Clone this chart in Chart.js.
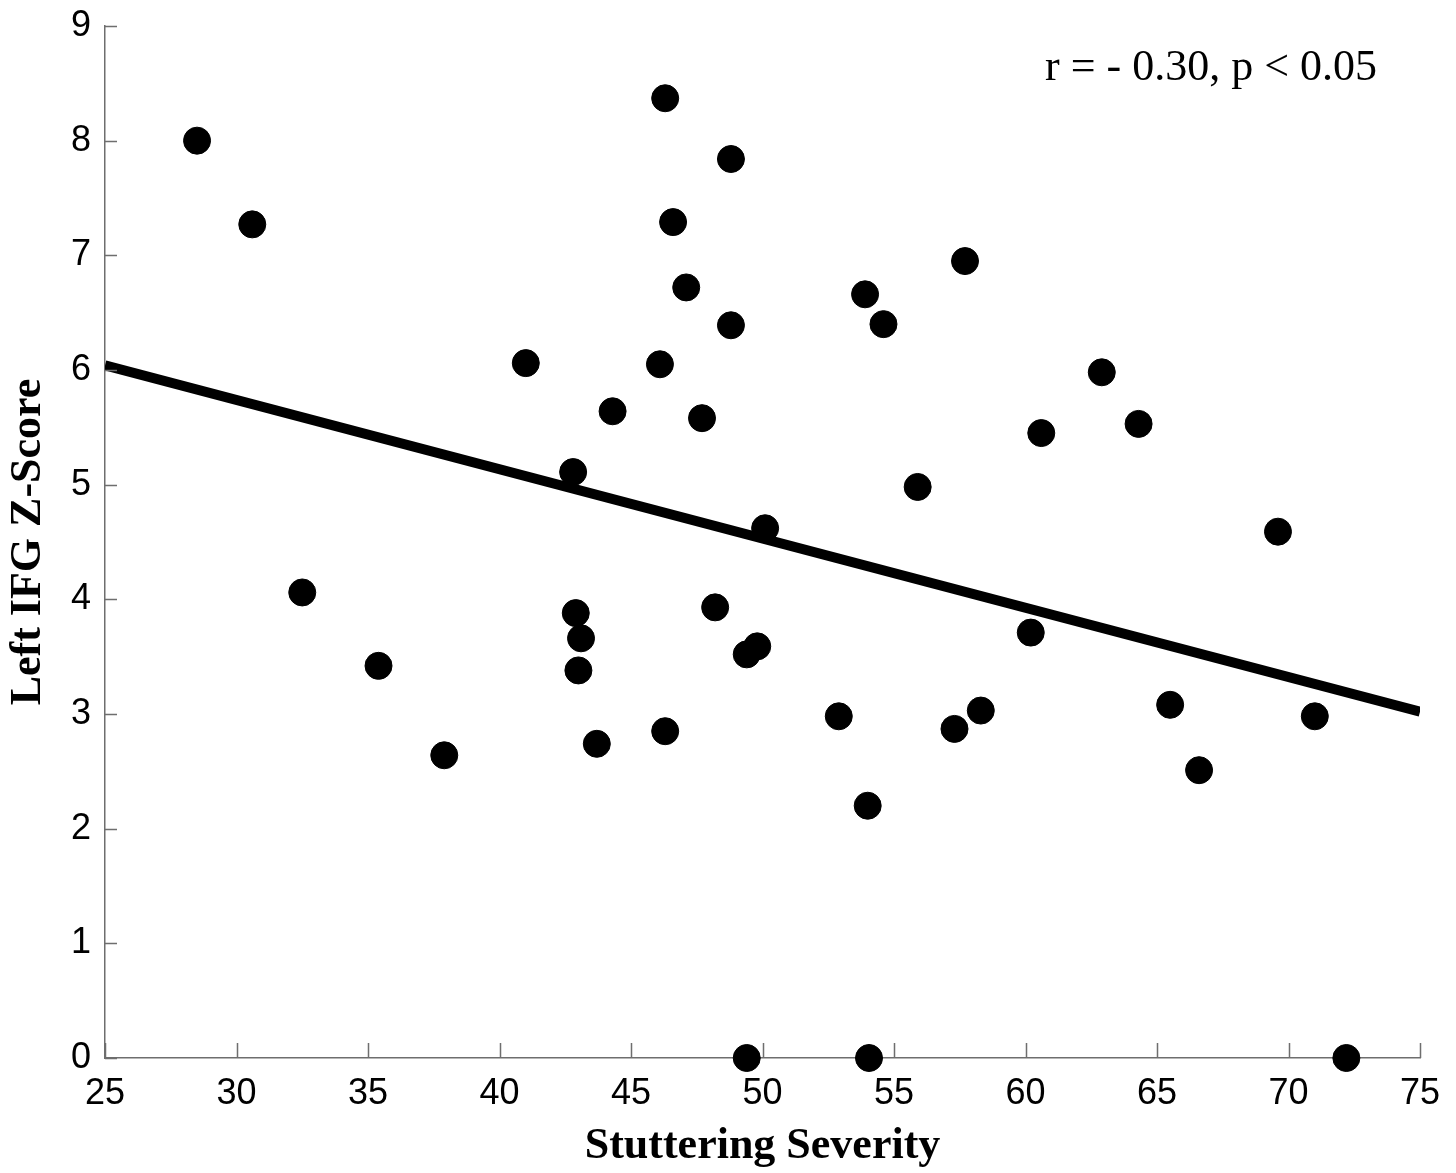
<!DOCTYPE html>
<html>
<head>
<meta charset="utf-8">
<script src="https://cdn.jsdelivr.net/npm/chart.js@4"></script>
<style>
  html, body { margin: 0; padding: 0; background: #fff; }
  #wrap { width: 1456px; height: 1173px; }
</style>
</head>
<body>
<div id="wrap"><canvas id="scatterChart" width="1456" height="1173"></canvas></div>
<script>
  // stuttering severity (x) and left IFG z-score (y)
  var severity = [28.5, 30.6, 32.5, 35.4, 37.9, 41.0, 42.8, 42.9, 43.1, 43.0, 43.7, 44.3,
    46.1, 46.3, 46.6, 47.1, 46.3, 47.7, 48.8, 48.8, 48.2, 49.4, 49.8, 50.1, 49.4,
    53.9, 54.6, 52.9, 54.0, 54.05, 55.9, 57.7, 57.3, 58.3, 60.2, 60.6, 62.9, 64.3,
    65.5, 66.6, 69.6, 71.0, 72.2];
  var zScore = [8.0, 7.27, 4.06, 3.42, 2.64, 6.06, 5.11, 3.88, 3.66, 3.38, 2.74, 5.64,
    6.05, 8.37, 7.29, 6.72, 2.85, 5.58, 7.84, 6.39, 3.93, 3.52, 3.59, 4.62, 0,
    6.66, 6.40, 2.98, 2.2, 0, 4.98, 6.95, 2.87, 3.03, 3.71, 5.45, 5.98, 5.53,
    3.08, 2.51, 4.59, 2.98, 0];

  // fitted line end points
  var fitX = [25, 75];
  var fitY = [6.04, 3.02];

  var xTicks = [25, 30, 35, 40, 45, 50, 55, 60, 65, 70, 75];
  var yTicks = [0, 1, 2, 3, 4, 5, 6, 7, 8, 9];

  var statText = 'r = - 0.30, p < 0.05';

  var points = severity.map(function (x, i) { return { x: x, y: zScore[i] }; });
  var fitPoints = fitX.map(function (x, i) { return { x: x, y: fitY[i] }; });

  var axisColor = '#6e6e6e';

  // inward tick marks + the r / p note
  var extrasPlugin = {
    id: 'extras',
    afterDraw: function (chart) {
      var ctx = chart.ctx;
      var xs = chart.scales.x, ys = chart.scales.y;
      var area = chart.chartArea;
      ctx.save();
      ctx.strokeStyle = axisColor;
      ctx.lineWidth = 1.5;
      ctx.beginPath();
      xTicks.forEach(function (v) {
        var px = Math.round(xs.getPixelForValue(v)) + 0.5;
        ctx.moveTo(px, area.bottom);
        ctx.lineTo(px, area.bottom - 15);
      });
      yTicks.forEach(function (v) {
        var py = Math.round(ys.getPixelForValue(v)) + 0.5;
        ctx.moveTo(area.left, py);
        ctx.lineTo(area.left + 12, py);
      });
      ctx.stroke();

      ctx.fillStyle = '#000';
      ctx.font = '44px "Liberation Serif", "Times New Roman", serif';
      ctx.textAlign = 'right';
      ctx.textBaseline = 'alphabetic';
      ctx.fillText(statText, 1377, 80);
      ctx.restore();
    }
  };

  var ctx = document.getElementById('scatterChart').getContext('2d');
  window.myScatter = new Chart(ctx, {
    type: 'scatter',
    data: {
      datasets: [{
        label: 'Subjects',
        data: points,
        backgroundColor: '#000',
        borderColor: '#000',
        pointRadius: 13.5,
        pointHoverRadius: 13.5,
        clip: false,
        order: 1
      }, {
        type: 'line',
        label: 'Fit',
        data: fitPoints,
        borderColor: '#000',
        borderWidth: 10,
        pointRadius: 0,
        fill: false,
        order: 2
      }]
    },
    options: {
      responsive: false,
      animation: false,
      layout: { padding: { top: 26, right: 36, left: 0, bottom: 0 } },
      plugins: {
        legend: { display: false },
        tooltip: { enabled: false }
      },
      scales: {
        x: {
          type: 'linear',
          min: 25,
          max: 75,
          afterBuildTicks: function (scale) {
            scale.ticks = xTicks.map(function (v) { return { value: v }; });
          },
          afterFit: function (scale) { scale.height = 115; },
          grid: { display: false, drawTicks: false },
          border: { display: true, color: axisColor, width: 1.5 },
          ticks: {
            color: '#000',
            padding: 14,
            maxRotation: 0,
            font: { family: '"Liberation Sans", Arial, sans-serif', size: 36 }
          },
          title: {
            display: true,
            text: 'Stuttering Severity',
            color: '#000',
            padding: { top: 0, bottom: 0 },
            font: { family: '"Liberation Serif", "Times New Roman", serif', size: 44, weight: 'bold' }
          }
        },
        y: {
          type: 'linear',
          min: 0,
          max: 9,
          afterBuildTicks: function (scale) {
            scale.ticks = yTicks.map(function (v) { return { value: v }; });
          },
          afterFit: function (scale) { scale.width = 105; },
          grid: { display: false, drawTicks: false },
          border: { display: true, color: axisColor, width: 1.5 },
          ticks: {
            color: '#000',
            padding: 14,
            font: { family: '"Liberation Sans", Arial, sans-serif', size: 36, lineHeight: 0.5 }
          },
          title: {
            display: true,
            text: 'Left IFG Z-Score',
            color: '#000',
            padding: { top: 2, bottom: 0 },
            font: { family: '"Liberation Serif", "Times New Roman", serif', size: 44, weight: 'bold' }
          }
        }
      }
    },
    plugins: [extrasPlugin]
  });
</script>
</body>
</html>
